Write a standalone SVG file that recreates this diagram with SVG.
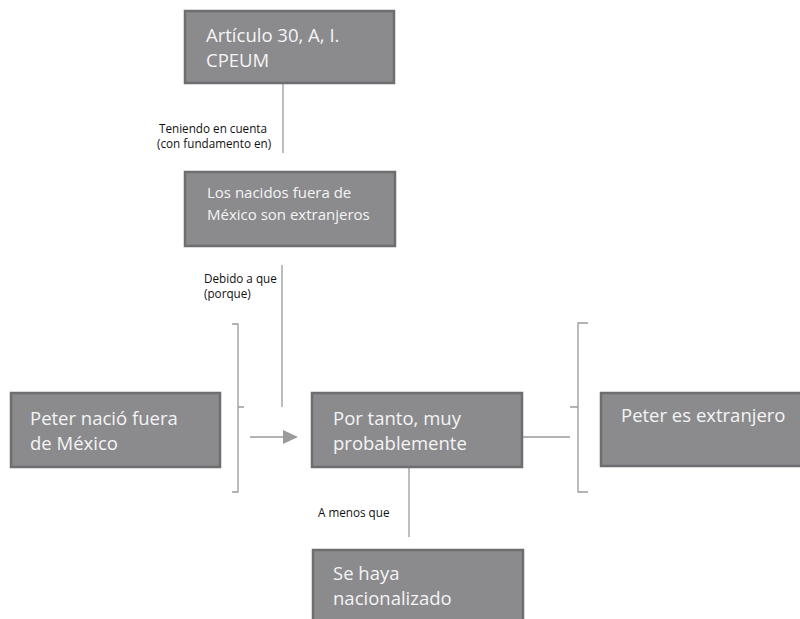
<svg xmlns="http://www.w3.org/2000/svg" width="800" height="619" viewBox="0 0 800 619">
<style>
.box{fill:#8b8b8e;stroke:#6e6e71;stroke-width:2.5}
.bt{font-family:"Open Sans","Noto Sans",sans-serif;fill:#f4f4f4;font-size:18.5px}
.bt2{font-family:"Open Sans","Noto Sans",sans-serif;fill:#f4f4f4;font-size:15px}
.lbl{font-family:"Open Sans","Noto Sans",sans-serif;fill:#111111;font-size:11.7px}
.ln{stroke:#9a9a9c;stroke-width:1.3;fill:none}
</style>
<defs>
<clipPath id="clipPorque"><rect x="150" y="260" width="150" height="41"/></clipPath>
</defs>
<rect width="800" height="619" fill="#ffffff"/>
<g id="connectors">
<line class="ln" x1="283" y1="84" x2="283" y2="153"/>
<line class="ln" x1="282" y1="265" x2="282" y2="407"/>
<path class="ln" d="M232,324 H238 V492 H232 M238,407 H244"/>
<line class="ln" x1="250" y1="437" x2="284" y2="437"/>
<polygon points="283,430 298,437 283,444" fill="#9a9a9c"/>
<line class="ln" x1="523" y1="437" x2="570" y2="437"/>
<path class="ln" d="M588,323 H578 V492 H588 M578,407 H570"/>
<line class="ln" x1="409" y1="468" x2="409" y2="537"/>
<text class="lbl" x="159" y="133">Teniendo en cuenta</text>
<text class="lbl" x="157" y="148">(con fundamento en)</text>
<text class="lbl" x="204" y="283">Debido a que</text>
<text class="lbl" x="204" y="298" clip-path="url(#clipPorque)">(porque)</text>
<text class="lbl" x="318" y="517">A menos que</text>
</g>
<g id="n1">
<rect class="box" x="185" y="11" width="209" height="72"/>
<text class="bt" x="206" y="42">Artículo 30, A, I.</text>
<text class="bt" x="206" y="67">CPEUM</text>
</g>
<g id="n2">
<rect class="box" x="185" y="172" width="210" height="74"/>
<text class="bt2" x="207" y="198">Los nacidos fuera de</text>
<text class="bt2" x="207" y="220">México son extranjeros</text>
</g>
<g id="n3">
<rect class="box" x="11" y="393" width="209" height="74"/>
<text class="bt" x="30" y="425">Peter nació fuera</text>
<text class="bt" x="30" y="450">de México</text>
</g>
<g id="n4">
<rect class="box" x="312" y="393" width="210" height="74"/>
<text class="bt" x="333" y="425">Por tanto, muy</text>
<text class="bt" x="333" y="450">probablemente</text>
</g>
<g id="n5">
<rect class="box" x="601" y="393" width="210" height="73"/>
<text class="bt" x="621" y="422">Peter es extranjero</text>
</g>
<g id="n6">
<rect class="box" x="313" y="550" width="210" height="80"/>
<text class="bt" x="333" y="580">Se haya</text>
<text class="bt" x="333" y="605">nacionalizado</text>
</g>
</svg>
